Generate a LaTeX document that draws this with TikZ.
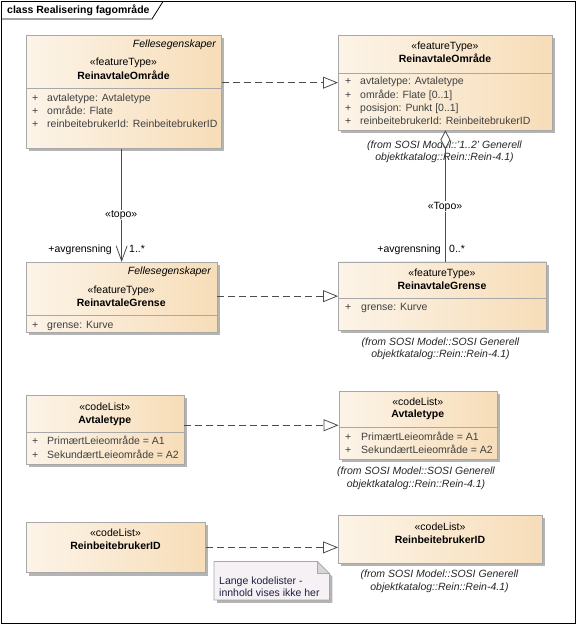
\documentclass[tikz,border=0pt]{standalone}
\usepackage{fontspec}
\setmainfont{Liberation Sans}
\usetikzlibrary{shadows,arrows.meta,calc}
\definecolor{boxL}{HTML}{FCF4E8}
\definecolor{boxR}{HTML}{F7DDB8}
\definecolor{boxB}{HTML}{A8A8A8}
\definecolor{shad}{HTML}{B4B4B4}
\definecolor{attr}{HTML}{404040}
\definecolor{noteF}{HTML}{F5F1F5}
\definecolor{foldF}{HTML}{D6D6D6}
\definecolor{noteT}{HTML}{202040}
\begin{document}
\begin{tikzpicture}[x=1pt,y=-1pt,
  font=\fontsize{10.5}{12}\selectfont,
  cls/.style={draw=boxB, line width=0.8pt, left color=boxL, right color=boxR, anchor=north west, inner sep=0pt,
    drop shadow={shadow xshift=3pt, shadow yshift=-3pt, fill=shad, opacity=1}},
  sep/.style={draw=boxB, line width=0.8pt},
  stereo/.style={inner sep=0pt, anchor=mid},
  cname/.style={inner sep=0pt, anchor=mid, font=\fontsize{10.5}{12}\selectfont\bfseries},
  tag/.style={inner sep=0pt, anchor=mid east, font=\fontsize{10.5}{12}\selectfont\itshape},
  attrtxt/.style={inner sep=0pt, anchor=mid west, text=attr},
  fromtxt/.style={inner sep=0pt, align=center, font=\fontsize{10.5}{12.5}\selectfont\itshape, text=black!85},
  real/.style={draw=black!70, line width=0.8pt, dash pattern=on 7pt off 4pt, -{Triangle[open,fill=white,length=15pt,width=12pt]}},
  assoc/.style={draw=black!70, line width=0.8pt},
  lbl/.style={inner sep=1pt, fill=white},
  mult/.style={inner sep=0pt}
]
\useasboundingbox (0,0) rectangle (577,625);
% frame
\draw[line width=1pt] (1.5,1.5) rectangle (575.5,623.5);
\draw[line width=0.8pt] (1.5,19) -- (152,19) -- (163,1.5);
\node[anchor=mid west, inner sep=0pt, font=\fontsize{10.5}{12}\selectfont\bfseries] (title) at (7,11) {class Realisering fagområde};

% Box A
\node[cls, minimum width=195pt, minimum height=113pt] (A) at (26,35) {};
\node[tag] (Atag) at (216,45) {Fellesegenskaper};
\node[stereo] (Ast) at (123.5,63) {«featureType»};
\node[cname] (An) at (123.5,77) {ReinavtaleOmråde};
\draw[sep] (A.west |- 0,88) -- (A.east |- 0,88);
\node[attrtxt] (Ap1) at (32,99) {+};
\node[attrtxt] (Aa1) at (47,99) {avtaletype: Avtaletype};
\node[attrtxt] (Ap2) at (32,112) {+};
\node[attrtxt] (Aa2) at (47,112) {område: Flate};
\node[attrtxt] (Ap3) at (32,125) {+};
\node[attrtxt] (Aa3) at (47,125) {reinbeitebrukerId: ReinbeitebrukerID};

% Box B
\node[cls, minimum width=214pt, minimum height=94.5pt] (B) at (338,35) {};
\node[stereo] (Bst) at (445,47) {«featureType»};
\node[cname] (Bn) at (445,60) {ReinavtaleOmråde};
\draw[sep] (B.west |- 0,73) -- (B.east |- 0,73);
\node[attrtxt] (Bp1) at (345,82) {+};
\node[attrtxt] (Ba1) at (360,82) {avtaletype: Avtaletype};
\node[attrtxt] (Bp2) at (345,96) {+};
\node[attrtxt] (Ba2) at (360,96) {område: Flate [0..1]};
\node[attrtxt] (Bp3) at (345,109) {+};
\node[attrtxt] (Ba3) at (360,109) {posisjon: Punkt [0..1]};
\node[attrtxt] (Bp4) at (345,122) {+};
\node[attrtxt] (Ba4) at (360,122) {reinbeitebrukerId: ReinbeitebrukerID};
\node[fromtxt] (Bfrom) at (444.5,152) {(from SOSI Model::'1..2' Generell\\objektkatalog::Rein::Rein-4.1)};

% Box C
\node[cls, minimum width=190.5pt, minimum height=69.5pt] (C) at (26,262) {};
\node[tag] (Ctag) at (211,271.7) {Fellesegenskaper};
\node[stereo] (Cst) at (121.25,290.7) {«featureType»};
\node[cname] (Cn) at (121.25,304) {ReinavtaleGrense};
\draw[sep] (C.west |- 0,315.5) -- (C.east |- 0,315.5);
\node[attrtxt] (Cp1) at (32,325.7) {+};
\node[attrtxt] (Ca1) at (47,325.7) {grense: Kurve};

% Box D
\node[cls, minimum width=208pt, minimum height=68.5pt] (D) at (338,261.5) {};
\node[stereo] (Dst) at (442,274) {«featureType»};
\node[cname] (Dn) at (442,286.7) {ReinavtaleGrense};
\draw[sep] (D.west |- 0,298) -- (D.east |- 0,298);
\node[attrtxt] (Dp1) at (345,308.3) {+};
\node[attrtxt] (Da1) at (361,308.3) {grense: Kurve};
\node[fromtxt] (Dfrom) at (440.5,349) {(from SOSI Model::SOSI Generell\\objektkatalog::Rein::Rein-4.1)};

% Box E
\node[cls, minimum width=157.5pt, minimum height=69pt] (E) at (26,395) {};
\node[stereo] (Est) at (104.75,407.7) {«codeList»};
\node[cname] (En) at (104.75,421) {Avtaletype};
\draw[sep] (E.west |- 0,432.3) -- (E.east |- 0,432.3);
\node[attrtxt] (Ep1) at (32,442.3) {+};
\node[attrtxt] (Ea1) at (47,442.3) {PrimærtLeieområde = A1};
\node[attrtxt] (Ep2) at (32,455.7) {+};
\node[attrtxt] (Ea2) at (47,455.7) {SekundærtLeieområde = A2};

% Box F
\node[cls, minimum width=158.5pt, minimum height=68.3pt] (F) at (338.5,390.7) {};
\node[stereo] (Fst) at (417.75,403.3) {«codeList»};
\node[cname] (Fn) at (417.75,415.3) {Avtaletype};
\draw[sep] (F.west |- 0,427.3) -- (F.east |- 0,427.3);
\node[attrtxt] (Fp1) at (345,437.7) {+};
\node[attrtxt] (Fa1) at (361,437.7) {PrimærtLeieområde = A1};
\node[attrtxt] (Fp2) at (345,450.7) {+};
\node[attrtxt] (Fa2) at (361,450.7) {SekundærtLeieområde = A2};
\node[fromtxt] (Ffrom) at (416,478.5) {(from SOSI Model::SOSI Generell\\objektkatalog::Rein::Rein-4.1)};

% Box G
\node[cls, minimum width=179pt, minimum height=50.6pt] (G) at (26,521.7) {};
\node[stereo] (Gst) at (115.5,534) {«codeList»};
\node[cname] (Gn) at (115.5,546.5) {ReinbeitebrukerID};

% Box H
\node[cls, minimum width=204pt, minimum height=47.5pt] (H) at (338,515) {};
\node[stereo] (Hst) at (440,527.5) {«codeList»};
\node[cname] (Hn) at (440,540.5) {ReinbeitebrukerID};
\node[fromtxt] (Hfrom) at (439.5,581.5) {(from SOSI Model::SOSI Generell\\objektkatalog::Rein::Rein-4.1)};

% Note
\node[anchor=north west, minimum width=115pt, minimum height=38pt, inner sep=0pt] (N) at (214,561.5) {};
\path[draw=boxB, line width=0.8pt, fill=noteF, drop shadow={shadow xshift=3pt, shadow yshift=-3pt, fill=shad, opacity=1}]
  (N.north west) -- ($(N.north east)+(-12,0)$) -- ($(N.north east)+(0,12)$) -- (N.south east) -- (N.south west) -- cycle;
\path[draw=boxB, line width=0.8pt, fill=foldF] ($(N.north east)+(-12,0)$) -- ($(N.north east)+(-12,12)$) -- ($(N.north east)+(0,12)$) -- cycle;
\node[attrtxt, text=noteT] (Nt1) at (219,582.3) {Lange kodelister -};
\node[attrtxt, text=noteT] (Nt2) at (219,593.5) {innhold vises ikke her};

% Realizations
\draw[real] (A.east |- B.west) -- (B.west);
\draw[real] (C.east |- D.west) -- (D.west);
\draw[real] (E.east |- F.west) -- (F.west);
\draw[real] (G.east) -- (G.east -| H.west);

% Associations
\draw[assoc, -{Straight Barb[length=15pt,width=11pt]}] (A.south -| C.north) -- (C.north);
\node[lbl] (topo1) at (121.25,215) {«topo»};
\node[mult, anchor=mid east] (r1) at (112,250) {+avgrensning};
\node[mult, anchor=mid west] (m1) at (129,250) {1..*};

\draw[assoc, {Diamond[open,fill=white,length=19pt,width=10pt]}-] (B.south) -- (B.south |- D.north);
\node[lbl] (topo2) at (445,206.7) {«Topo»};
\node[mult, anchor=mid east] (r2) at (441,250) {+avgrensning};
\node[mult, anchor=mid west] (m2) at (449,250) {0..*};
\end{tikzpicture}
\end{document}
